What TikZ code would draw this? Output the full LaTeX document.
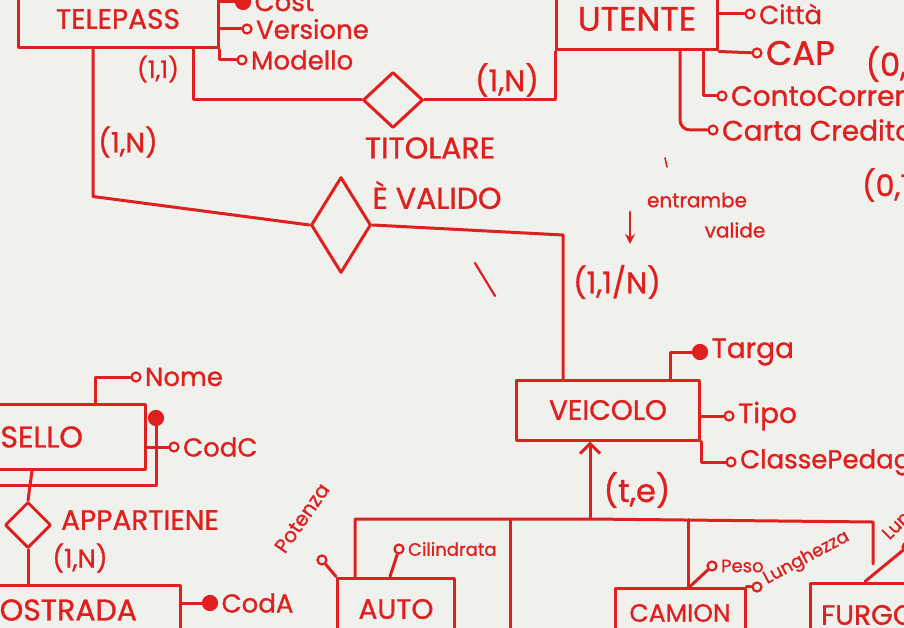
\documentclass[tikz,border=0pt]{standalone}
\usepackage{fontspec}
\setmainfont{Poppins}[FakeBold=1]
\usetikzlibrary{shapes.geometric,arrows.meta,positioning}

\definecolor{pen}{RGB}{222,32,30}
\definecolor{board}{RGB}{240,241,237}

\tikzset{
	entity/.style={draw, inner sep=0pt, font=\fontsize{28}{30}\selectfont},
	relation/.style={draw, diamond, inner sep=0pt},
	reltext/.style={font=\fontsize{30}{32}\selectfont},
	attr/.style={circle, draw, fill=board, line width=2.2pt, inner sep=0pt, minimum size=9pt},
	keyattr/.style={attr, fill=pen, minimum size=14pt},
	attrlabel/.style={font=\fontsize{26}{28}\selectfont, inner sep=2pt},
	smalllabel/.style={font=\fontsize{18}{20}\selectfont, inner sep=2pt},
	card/.style={font=\fontsize{28}{30}\selectfont},
}

\begin{document}
\begin{tikzpicture}[x=1pt, y=-1pt, color=pen, line width=3pt, line cap=round, line join=round]

		\fill[board] (0,0) rectangle (904,628);
		\useasboundingbox (0,0) rectangle (904,628);
		\clip (0,0) rectangle (904,628);

		% entities
		\node[entity, minimum width=200pt, minimum height=58pt] (telepass)   at (118,19)  {TELEPASS};
		\node[entity, minimum width=161pt, minimum height=62pt, font=\fontsize{34}{36}\selectfont] (utente) at (637,19) {UTENTE};
		\node[entity, minimum width=183pt, minimum height=60pt] (veicolo)    at (608,410) {VEICOLO};
		\node[entity, minimum width=250pt, minimum height=65pt, font=\fontsize{30}{32}\selectfont] (casello) at (20,437) {CASELLO};
		\node[entity, minimum width=280pt, minimum height=50pt, font=\fontsize{30}{32}\selectfont] (autostrada) at (40,610) {AUTOSTRADA};
		\node[entity, minimum width=117pt, minimum height=62pt] (auto)       at (396,609) {AUTO};
		\node[entity, minimum width=130pt, minimum height=50pt, font=\fontsize{25}{27}\selectfont] (camion) at (680,613) {CAMION};
		\node[entity, minimum width=150pt, minimum height=64pt] (furgone)    at (885,615) {FURGONE};

		% relationships
		\node[relation, minimum width=60pt, minimum height=56pt] (titolare)   at (393,100) {};
		\node[relation, minimum width=60pt, minimum height=96pt] (valido)     at (341,225) {};
		\node[relation, minimum width=46pt, minimum height=46pt] (appartiene) at (28,525)  {};
		\node[reltext] (titolareT)   at (430,148) {TITOLARE};
		\node[reltext] (validoT)     at (437,195) {È VALIDO};
		\node[reltext, font=\fontsize{28}{30}\selectfont] (appartieneT) at (140,520) {APPARTIENE};

		% titolare
		\draw ([xshift=75pt]telepass.south) |- (titolare.west);
		\draw (titolare.east) -| ([xshift=-82pt]utente.south);
		\node[card, font=\fontsize{24}{26}\selectfont] (cTel1) at (158,69)  {(1,1)};
		\node[card, font=\fontsize{30}{32}\selectfont] (cUte1) at (507,80)  {(1,N)};

		% e' valido
		\coordinate (vbend) at (563,235);
		\draw ([xshift=-25pt]telepass.south) -- ++(0,147) -- (valido.west);
		\draw (valido.east) -- (vbend) -- ([xshift=-45pt]veicolo.north);
		\node[card] (cTel2) at (128,142) {(1,N)};
		\node[card, font=\fontsize{30}{32}\selectfont] (cVei1) at (617,282) {(1,1/N)};

		% note
		\coordinate (noteA) at (630,212);
		\coordinate (noteB) at (630,244);
		\draw[line width=2.2pt, -{Stealth[length=10pt,width=10pt]}] (noteA) -- (noteB);
		\node[smalllabel, font=\fontsize{20}{22}\selectfont] (entrambe) at (697,200) {entrambe};
		\node[smalllabel, font=\fontsize{20}{22}\selectfont] (valide)   at (735,230) {valide};
		\draw[line width=2.2pt] (475,263) -- (495,296);
		\draw[line width=1.6pt] (665,158) -- (667,167);

		% telepass attributes
		\node[keyattr, label={[attrlabel]right:Cost}]     (cost)     at (243,2)  {};
		\node[attr,    label={[attrlabel]right:Versione}] (versione) at (247,29) {};
		\node[attr,    label={[attrlabel]right:Modello}]  (modello)  at (242,60) {};
		\draw (telepass.east |- cost) -- (cost);
		\draw (telepass.east |- versione) -- (versione);
		\draw (telepass.south east) |- (modello);

		% utente attributes
		\node[attr, label={[attrlabel]right:Città}]                                  (citta) at (750,14)  {};
		\node[attr, label={[attrlabel, font=\fontsize{34}{36}\selectfont]right:CAP}] (cap)   at (757,53)  {};
		\node[attr, label={[attrlabel, font=\fontsize{28}{30}\selectfont]right:ContoCorrente}] (conto) at (722,96)  {};
		\node[attr, label={[attrlabel, font=\fontsize{28}{30}\selectfont]right:Carta Credito}] (carta) at (713,130) {};
		\draw (utente.east |- citta) -- (citta);
		\draw (utente.south east) -- (cap);
		\draw ([xshift=66pt]utente.south) |- (conto);
		\draw[rounded corners=10pt] ([xshift=43pt]utente.south) |- (carta);
		\node[card, font=\fontsize{32}{34}\selectfont] (cCap)   at (886,64)  {(0,};
		\node[card, font=\fontsize{30}{32}\selectfont] (cCarta) at (886,185) {(0,1};

		% veicolo attributes
		\node[keyattr, label={[attrlabel, font=\fontsize{28}{30}\selectfont]right:Targa}] (targa) at (700,352) {};
		\node[attr,    label={[attrlabel, font=\fontsize{28}{30}\selectfont]right:Tipo}]  (tipo)  at (729,416) {};
		\node[attr,    label={[attrlabel]right:ClassePedaggio}] (classe) at (731,462) {};
		\draw ([xshift=62pt]veicolo.north) |- (targa);
		\draw (veicolo.east |- tipo) -- (tipo);
		\draw (veicolo.south east) |- (classe);

		% generalization
		\coordinate (isa)  at (590,519);
		\coordinate (gr)   at (873,522);
		\coordinate (moto) at (510,640);
		\draw[-{Straight Barb[length=10pt,width=20pt]}] (isa) -- (veicolo.south -| isa);
		\draw ([xshift=-41pt]auto.north) |- (isa) -- (gr) -- ++(0,42);
		\draw (moto) -- ++(0,-120);
		\draw ([xshift=8pt]camion.north) -- ++(0,-67);
		\node[card, font=\fontsize{32}{34}\selectfont] (cGen) at (637,490) {(t,e)};

		% auto attributes
		\node[attr, label={[smalllabel]right:Cilindrata}] (cilindrata) at (399,549) {};
		\node[attr] (potenza) at (322,560) {};
		\draw ([xshift=-6pt]auto.north) -- (cilindrata);
		\draw (potenza) -- (auto.north west);
		\node[smalllabel, font=\fontsize{20}{22}\selectfont, rotate=55] (potenzaT) at (302,518) {Potenza};

		% camion attributes
		\node[attr, label={[smalllabel]right:Peso}] (peso) at (712,566) {};
		\node[attr] (lunghezza) at (757,587) {};
		\draw ([xshift=10pt]camion.north) -- (peso);
		\draw (camion.north east) -- (lunghezza);
		\node[smalllabel, rotate=28, anchor=west] (lunghezzaT) at (762,582) {Lunghezza};

		% furgone attributes
		\node[attr] (lungF) at (907,547) {};
		\draw ([xshift=-20pt]furgone.north) -- (lungF);
		\node[smalllabel, rotate=45, anchor=west] (lungFT) at (884,540) {Lunghezza};

		% casello
		\node[attr, label={[attrlabel]right:Nome}] (nome) at (136,377) {};
		\node[attr, label={[attrlabel]right:CodC}] (codc) at (174,447) {};
		\node[keyattr] (idc) at (156,418) {};
		\draw ([xshift=75pt]casello.north) |- (nome);
		\draw (casello.east |- codc) -- (codc);
		\draw (idc) -- ++(0,67) -- ++(-165,0);
		\draw ([xshift=12pt]casello.south) -- (appartiene.north);
		\draw (appartiene.south) -- (appartiene.south |- autostrada.north);
		\node[card, font=\fontsize{26}{28}\selectfont] (cAut) at (80,558) {(1,N)};

		% autostrada attributes
		\node[keyattr, label={[attrlabel]right:CodA}] (coda) at (210,603) {};
		\draw (autostrada.east |- coda) -- (coda);

\end{tikzpicture}
\end{document}
